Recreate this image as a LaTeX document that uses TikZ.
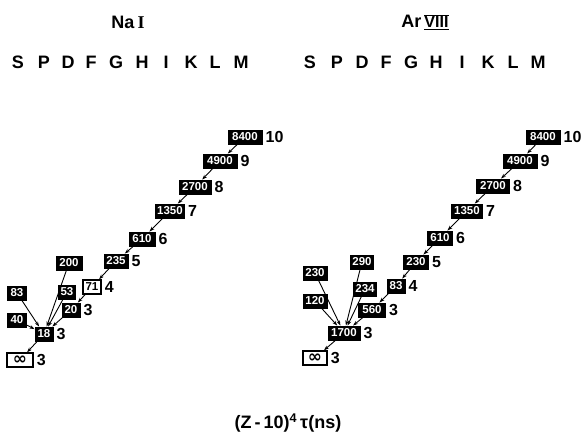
\documentclass[tikz,border=0pt]{standalone}
\usepackage{fontspec}
\setmainfont{Liberation Sans}
\newfontfamily\romfont{Liberation Serif}
\newfontfamily\symfont{DejaVu Sans}
\usetikzlibrary{arrows.meta}
\begin{document}
\begin{tikzpicture}[x=1pt,y=-1pt,
  bx/.style={fill=black,draw=black,text=white,font=\fontsize{11.5}{11.5}\selectfont\bfseries,
    inner xsep=1.5pt,inner ysep=0pt,minimum height=14pt,line width=0.9pt},
  wbx/.style={bx,fill=white,text=black,line width=1.4pt},
  lab/.style={font=\fontsize{16}{16}\selectfont\bfseries},
  hdr/.style={font=\fontsize{18}{18}\selectfont\bfseries,inner sep=0pt},
  ttl/.style={font=\fontsize{18}{18}\selectfont\bfseries,inner sep=0pt},
  arr/.style={-{Stealth[length=5pt,width=3.5pt]},line width=0.9pt},
  every label/.style={lab,inner sep=3pt}]
\useasboundingbox (0,0) rectangle (582,436);
% titles
\node[ttl] (t1) at (128,22) {Na\,{\romfont I}};
\node[ttl] (t2) at (425,22) {Ar\,$\overline{\underline{\mbox{\fontsize{16}{16}\selectfont\bfseries VIII}}}$};
% headers
\foreach \l/\x in {S/18,P/44,D/68,F/91,G/116,H/142,I/166,K/191,L/215,M/241}
  \node[hdr] (a\l) at (\x,62) {\l};
\foreach \l/\x in {S/310,P/337,D/362,F/386,G/411,H/436,I/462,K/488,L/513,M/538}
  \node[hdr] (b\l) at (\x,62) {\l};
% NaI
\node[bx,minimum width=34pt,label={right:10}] (n10) at (245,137) {8400};
\node[bx,minimum width=34pt,label={right:9}] (n9) at (220,161) {4900};
\node[bx,minimum width=32pt,label={right:8}] (n8) at (195,187) {2700};
\node[bx,minimum width=29pt,label={right:7}] (n7) at (170,211) {1350};
\node[bx,minimum width=26pt,label={right:6}] (n6) at (142,239) {610};
\node[bx,minimum width=24pt,label={right:5}] (n5) at (116,261) {235};
\node[wbx,minimum width=18pt,label={right:4}] (n4) at (92,287) {71};
\node[bx,minimum width=18pt,label={right:3}] (nd3) at (71,310) {20};
\node[bx,minimum width=18pt,label={right:3}] (nd) at (44,334) {18};
\node[bx,minimum width=17pt] (n53) at (67,292) {53};
\node[bx,minimum width=26pt] (n200) at (69,263) {200};
\node[bx,minimum width=19pt] (n83) at (17,293) {83};
\node[bx,minimum width=19pt] (n40) at (17,320) {40};
\node[wbx,minimum width=26pt,label={right:3}] (ninf) at (20,360) {{\symfont\fontsize{17}{14}\selectfont\bfseries ∞}};
\draw[arr] (n10) -- (n9);
\draw[arr] (n9) -- (n8);
\draw[arr] (n8) -- (n7);
\draw[arr] (n7) -- (n6);
\draw[arr] (n6) -- (n5);
\draw[arr] (n5) -- (n4);
\draw[arr] (n4) -- (nd3);
\draw[arr] (nd3) -- (nd);
\draw[arr] (n53) -- (nd);
\draw[arr] (n200) -- (nd);
\draw[arr] (n83) -- (nd);
\draw[arr] (n40) -- (nd);
\draw[arr] (nd) -- (ninf);
% ArVIII
\node[bx,minimum width=34pt,label={right:10}] (m10) at (543,137) {8400};
\node[bx,minimum width=34pt,label={right:9}] (m9) at (520,161) {4900};
\node[bx,minimum width=33pt,label={right:8}] (m8) at (493,186) {2700};
\node[bx,minimum width=31pt,label={right:7}] (m7) at (467,211) {1350};
\node[bx,minimum width=25pt,label={right:6}] (m6) at (440,238) {610};
\node[bx,minimum width=25pt,label={right:5}] (m5) at (416,262) {230};
\node[bx,minimum width=18pt,label={right:4}] (m4) at (396,286) {83};
\node[bx,minimum width=27pt,label={right:3}] (m3) at (372,310) {560};
\node[bx,minimum width=32pt,label={right:3}] (md) at (344,333) {1700};
\node[bx,minimum width=24pt] (m230) at (315,273) {230};
\node[bx,minimum width=23pt] (m290) at (362,262) {290};
\node[bx,minimum width=23pt] (m234) at (365,289) {234};
\node[bx,minimum width=24pt] (m120) at (315,301) {120};
\node[wbx,minimum width=24pt,label={right:3}] (minf) at (315,358) {{\symfont\fontsize{17}{14}\selectfont\bfseries ∞}};
\draw[arr] (m10) -- (m9);
\draw[arr] (m9) -- (m8);
\draw[arr] (m8) -- (m7);
\draw[arr] (m7) -- (m6);
\draw[arr] (m6) -- (m5);
\draw[arr] (m5) -- (m4);
\draw[arr] (m4) -- (m3);
\draw[arr] (m3) -- (md);
\draw[arr] (m230) -- (md);
\draw[arr] (m290) -- (md);
\draw[arr] (m234) -- (md);
\draw[arr] (m120) -- (md);
\draw[arr] (md) -- (minf);
% axis label
\node[ttl] (xl) at (288,423) {(Z\,-\,10)\textsuperscript{4}\,τ(ns)};
\end{tikzpicture}
\end{document}
